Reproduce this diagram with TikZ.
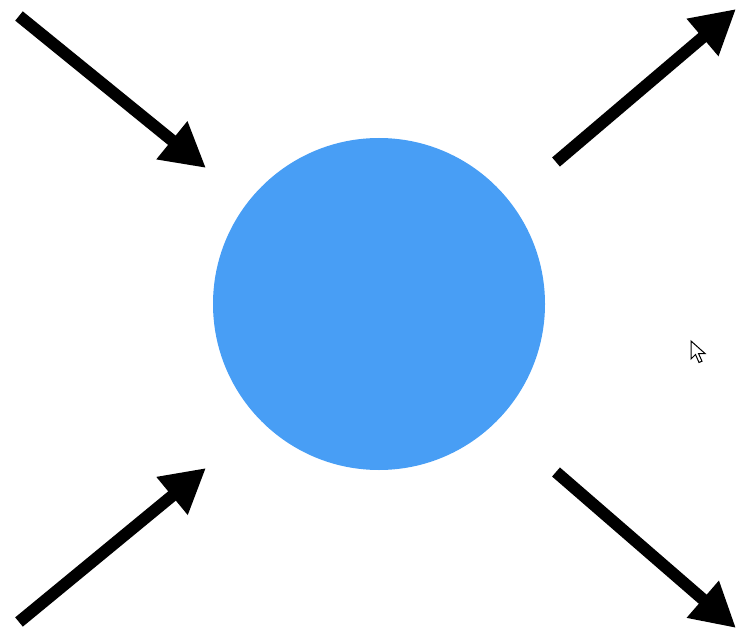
\documentclass[tikz,border=0pt]{standalone}
\usetikzlibrary{arrows.meta}
\definecolor{ballblue}{RGB}{72,158,245}
\begin{document}
\begin{tikzpicture}[x=1pt,y=-1pt,
  flow/.style={line width=12pt,-{Triangle[length=44pt,width=46pt]}},
  ball/.style={circle,fill=ballblue,minimum size=332pt,inner sep=0pt}]
\useasboundingbox (0,0) rectangle (736,631);
\node[ball] (c) at (379,304) {};
\coordinate (a1) at (19,16);  \coordinate (b1) at (206,168);
\coordinate (a2) at (556,162); \coordinate (b2) at (736,9);
\coordinate (a3) at (19,622); \coordinate (b3) at (206,468);
\coordinate (a4) at (556,472); \coordinate (b4) at (736,628);
\draw[flow] (a1) -- (b1);
\draw[flow] (a2) -- (b2);
\draw[flow] (a3) -- (b3);
\draw[flow] (a4) -- (b4);
% mouse cursor
\coordinate (m) at (691,341);
\draw[line width=1pt,fill=white,line join=miter] (m) -- ++(0,18) -- ++(4.5,-4.5) -- ++(3.5,8) -- ++(3,-1.3) -- ++(-3.5,-7.7) -- ++(6.5,0) -- cycle;
\end{tikzpicture}
\end{document}
